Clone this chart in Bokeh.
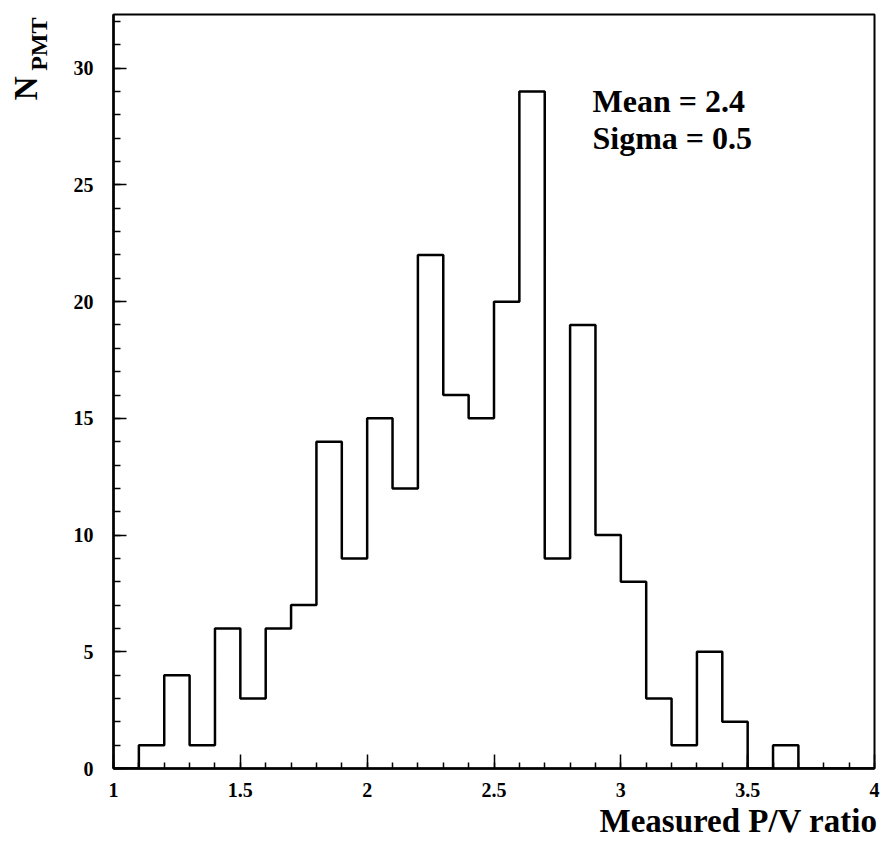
from bokeh.plotting import figure
from bokeh.models import Range1d, FixedTicker, CustomJSTickFormatter, Label, Title
from bokeh.embed import file_html
from bokeh.resources import INLINE

# ---- data ----
bin_edges = [round(1.0 + 0.1 * i, 1) for i in range(31)]
counts = [0, 1, 4, 1, 6, 3, 6, 7, 14, 9,
          15, 12, 22, 16, 15, 20, 29, 9, 19, 10,
          8, 3, 1, 5, 2, 0, 1, 0, 0, 0]
x_major = [1, 1.5, 2, 2.5, 3, 3.5, 4]
x_minor = [round(1.0 + 0.1 * i, 1) for i in range(31)]
y_major = [0, 5, 10, 15, 20, 25, 30]
y_minor = list(range(0, 33))
stats_lines = ["Mean = 2.4", "Sigma = 0.5"]
x_title = "Measured P/V ratio"
y_title_main = "N"
y_title_sub = "PMT"

FONT = "Liberation Serif"

p = figure(width=887, height=843, output_backend="svg", toolbar_location=None,
           x_range=Range1d(1, 4), y_range=Range1d(0, 32.3),
           min_border_left=113, min_border_right=13,
           min_border_top=14, min_border_bottom=75)

p.grid.visible = False
p.background_fill_color = "white"
p.border_fill_color = "white"
p.outline_line_color = "black"
p.outline_line_width = 2

# step outline histogram
p.step(x=bin_edges, y=counts + [0], mode="after", line_color="black", line_width=2.5)

# axes
xa = p.xaxis[0]
xa.ticker = FixedTicker(ticks=x_major, minor_ticks=x_minor)
xa.formatter = CustomJSTickFormatter(code="return String(Math.round(tick*10)/10);")
xa.major_tick_in = 14
xa.major_tick_out = 0
xa.minor_tick_in = 6
xa.minor_tick_out = 0
xa.axis_line_width = 2.5
xa.major_tick_line_width = 1.5
xa.minor_tick_line_width = 1.5
xa.major_label_text_font = FONT
xa.major_label_text_font_style = "bold"
xa.major_label_text_font_size = "20px"
xa.major_label_text_color = "black"
xa.major_label_standoff = 14

ya = p.yaxis[0]
ya.ticker = FixedTicker(ticks=y_major, minor_ticks=y_minor)
ya.major_tick_in = 13
ya.major_tick_out = 0
ya.minor_tick_in = 7
ya.minor_tick_out = 0
ya.axis_line_width = 2.5
ya.major_tick_line_width = 1.5
ya.minor_tick_line_width = 1.5
ya.major_label_text_font = FONT
ya.major_label_text_font_style = "bold"
ya.major_label_text_font_size = "20px"
ya.major_label_text_color = "black"
ya.major_label_standoff = 20

# statistics text
for i, t in enumerate(stats_lines):
    p.add_layout(Label(x=479, y=668 - 37 * i, x_units="screen", y_units="screen",
                       text=t, text_font=FONT, text_font_style="bold",
                       text_font_size="32px", text_color="black",
                       text_align="left", text_baseline="alphabetic"))

# x axis title (right aligned, below)
p.add_layout(Title(text=x_title, align="right", offset=-3, standoff=3,
                   text_font=FONT, text_font_style="bold",
                   text_font_size="33px", text_color="black"), "below")

# y axis title N_PMT (left side, near the top)
p.add_layout(Title(text=y_title_sub, align="right", offset=3, standoff=38,
                   text_font=FONT, text_font_style="bold",
                   text_font_size="24px", text_color="black"), "left")
p.add_layout(Title(text=y_title_main, align="right", offset=62, standoff=-79,
                   text_font=FONT, text_font_style="bold",
                   text_font_size="33px", text_color="black"), "left")

open("out.html", "w").write(file_html(p, INLINE))
